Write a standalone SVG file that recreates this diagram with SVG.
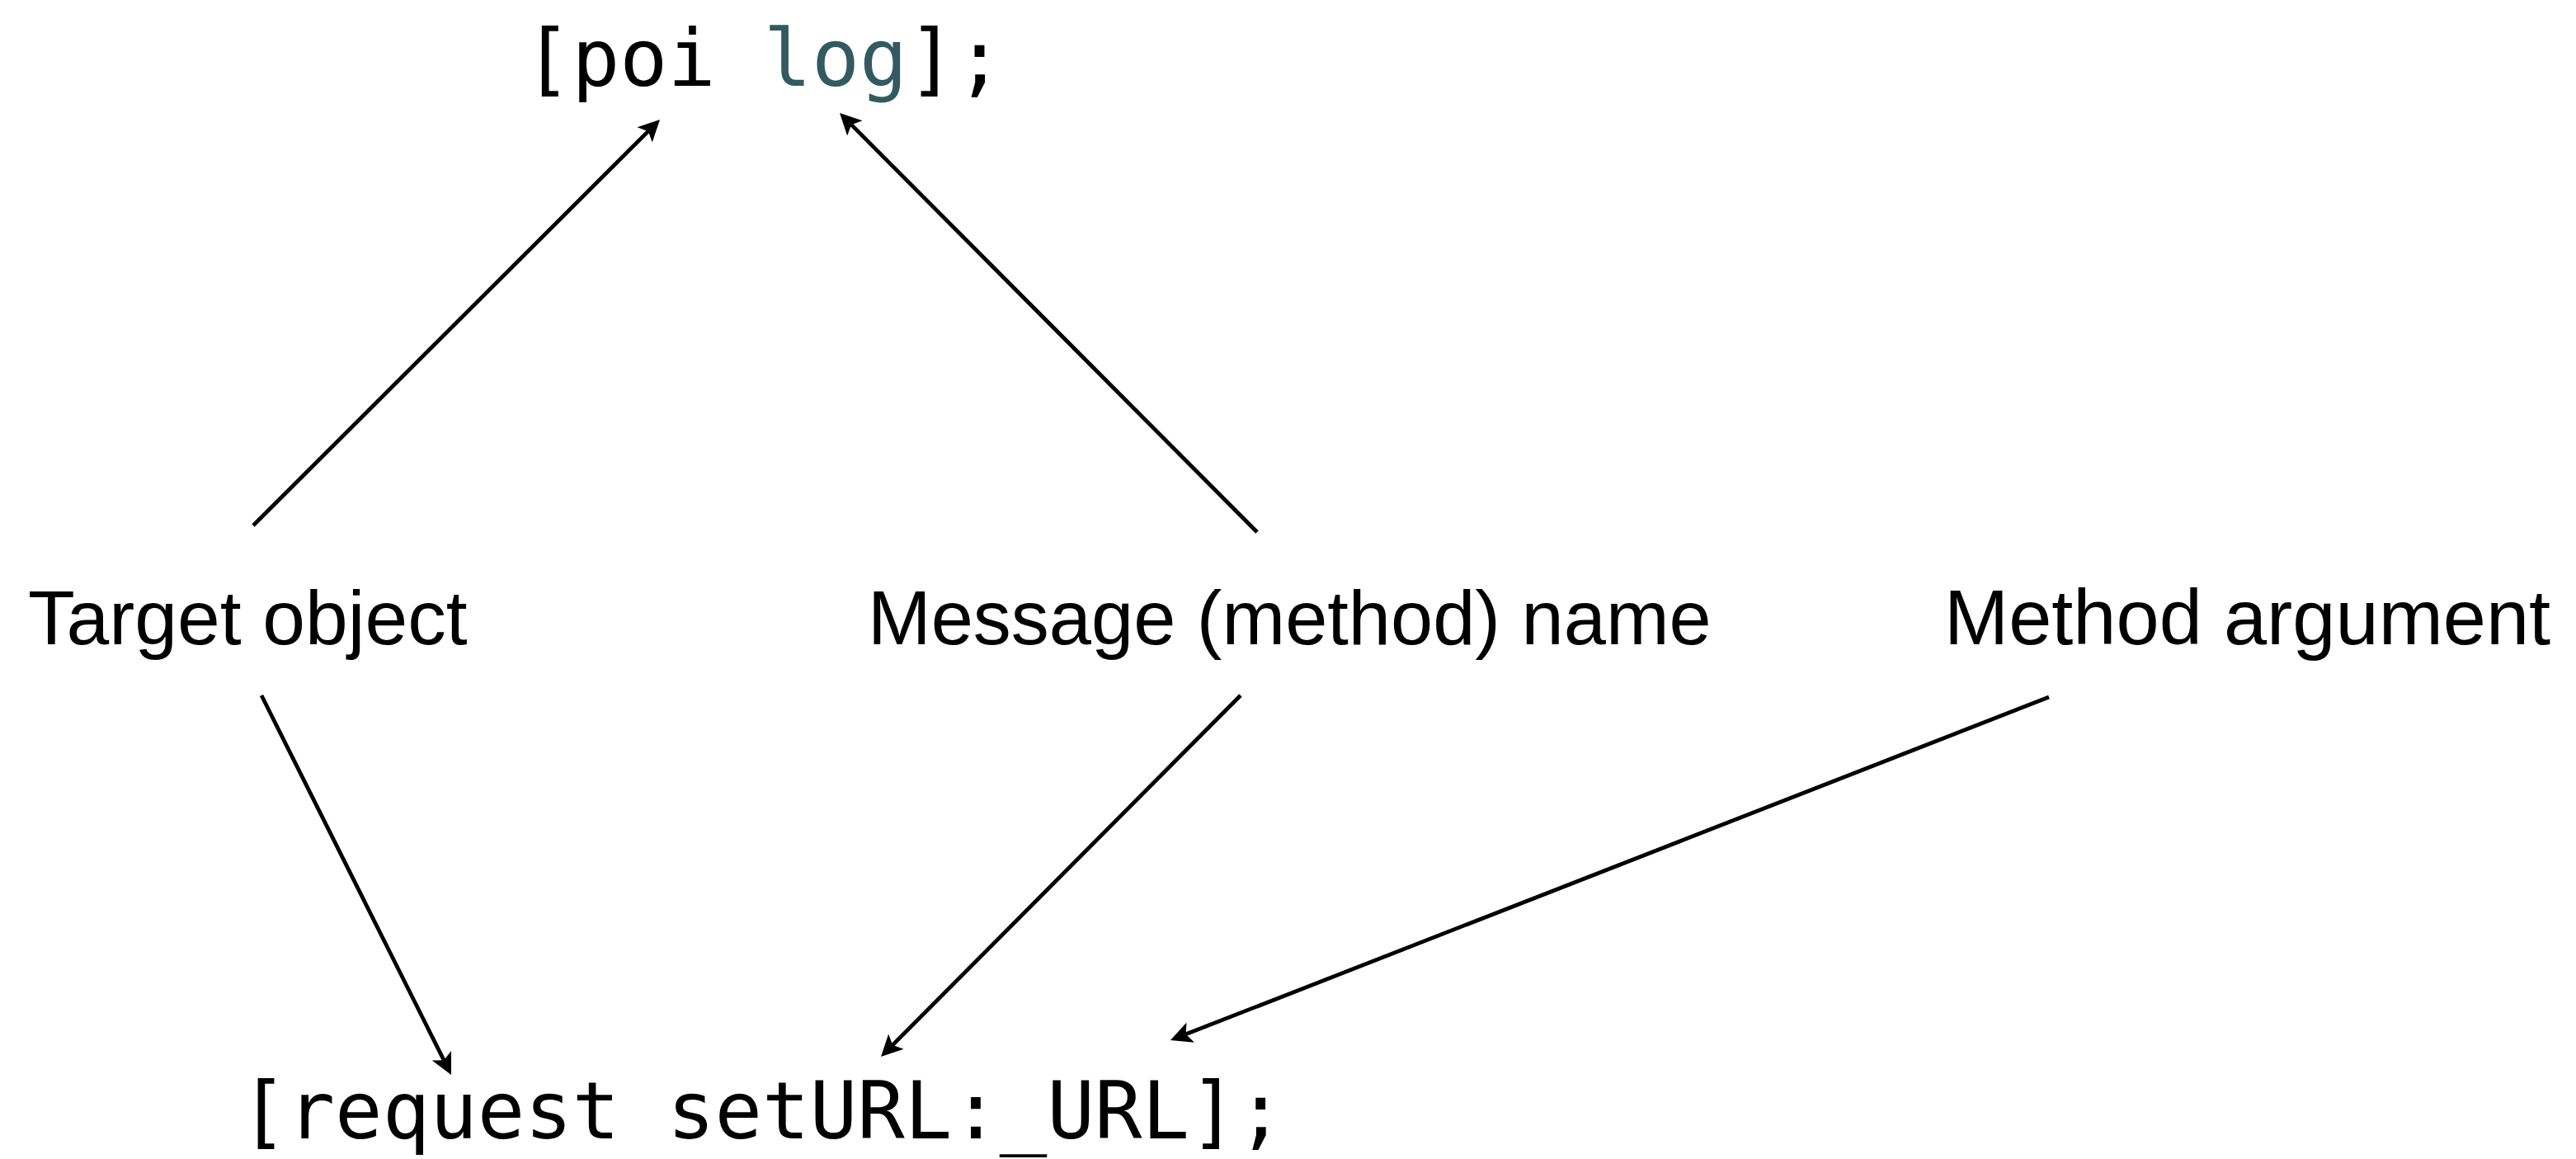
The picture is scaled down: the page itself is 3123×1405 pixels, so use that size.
<svg xmlns="http://www.w3.org/2000/svg" width="3123" height="1405" viewBox="0 0 3123 1405">
<style>
.code{font-family:"DejaVu Sans Mono","Liberation Mono",monospace;fill:#000}
.lbl{font-family:"Liberation Sans",Arial,sans-serif;fill:#000}
.conn{stroke:#000;stroke-width:4.8;fill:none;marker-end:url(#ah)}
</style>
<defs>
<marker id="ah" markerUnits="userSpaceOnUse" viewBox="-15 -15 35 30" refX="0" refY="0" markerWidth="35" markerHeight="30" orient="auto">
<path d="M15,0 L-11,-13 L-5,0 L-11,13 Z" fill="#000"/>
</marker>
</defs>
<rect width="3123" height="1405" fill="#fff"/>
<g id="code-top"><text class="code" x="635" y="104" font-size="96.6">[poi <tspan fill="#325a5f">log</tspan>];</text></g>
<g id="code-bottom"><text class="code" x="291" y="1380" font-size="95.6">[request setURL:_URL];</text></g>
<g id="label-target"><text class="lbl" x="34" y="781" font-size="93">Target object</text></g>
<g id="label-message"><text class="lbl" x="1052" y="781" font-size="92">Message (method) name</text></g>
<g id="label-argument"><text class="lbl" x="2357" y="781" font-size="93.8">Method argument</text></g>
<g id="connectors">
<line class="conn" x1="307" y1="637" x2="789.4" y2="155.6"/>
<line class="conn" x1="1524" y1="645" x2="1028.6" y2="147.6"/>
<line class="conn" x1="317" y1="843" x2="540.3" y2="1289.6"/>
<line class="conn" x1="1504" y1="843" x2="1078.6" y2="1270.4"/>
<line class="conn" x1="2484" y1="845" x2="1433" y2="1255.6"/>
</g>
</svg>
